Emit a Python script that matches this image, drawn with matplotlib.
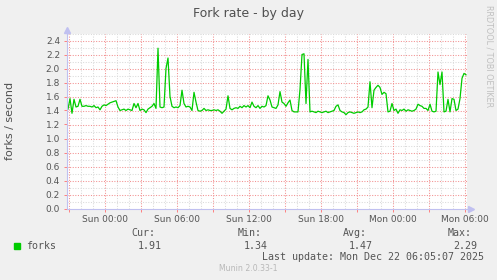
import numpy as np
import pandas as pd
import matplotlib
matplotlib.use('Agg')
import matplotlib.pyplot as plt
import matplotlib.dates as mdates
from matplotlib.ticker import MultipleLocator, FuncFormatter

# fork rate samples, 10 minute steps from Sat 20:55
forks = [
    1.42, 1.57, 1.36, 1.56, 1.45, 1.46, 1.56, 1.46, 1.46, 1.47,
    1.46, 1.46, 1.45, 1.47, 1.44, 1.45, 1.41, 1.46, 1.48, 1.47,
    1.49, 1.51, 1.52, 1.53, 1.54, 1.45, 1.40, 1.41, 1.42, 1.40,
    1.42, 1.41, 1.40, 1.50, 1.44, 1.50, 1.40, 1.42, 1.41, 1.37,
    1.42, 1.44, 1.46, 1.50, 1.43, 2.29, 1.45, 1.44, 1.45, 2.00,
    2.15, 1.60, 1.46, 1.44, 1.45, 1.44, 1.47, 1.69, 1.50, 1.45,
    1.46, 1.45, 1.40, 1.66, 1.52, 1.40, 1.39, 1.40, 1.43, 1.40,
    1.41, 1.40, 1.40, 1.41, 1.40, 1.41, 1.39, 1.36, 1.39, 1.42,
    1.61, 1.43, 1.41, 1.43, 1.44, 1.43, 1.46, 1.44, 1.47, 1.45,
    1.47, 1.44, 1.52, 1.46, 1.44, 1.47, 1.43, 1.46, 1.45, 1.47,
    1.61, 1.55, 1.45, 1.44, 1.43, 1.48, 1.67, 1.52, 1.50, 1.46,
    1.51, 1.55, 1.40, 1.38, 1.38, 1.38, 1.70, 2.20, 2.21, 1.50,
    2.13, 1.38, 1.39, 1.38, 1.37, 1.39, 1.38, 1.37, 1.38, 1.39,
    1.37, 1.38, 1.39, 1.40, 1.46, 1.48, 1.40, 1.38, 1.37, 1.34,
    1.37, 1.38, 1.37, 1.36, 1.37, 1.38, 1.37, 1.38, 1.41, 1.42,
    1.45, 1.81, 1.44, 1.69, 1.73, 1.76, 1.73, 1.63, 1.66, 1.64,
    1.38, 1.39, 1.50, 1.40, 1.42, 1.36, 1.41, 1.40, 1.42, 1.39,
    1.41, 1.40, 1.39, 1.40, 1.42, 1.49, 1.47, 1.46, 1.43, 1.43,
    1.40, 1.49, 1.39, 1.38, 1.39, 1.95, 1.77, 1.95, 1.38, 1.39,
    1.56, 1.38, 1.57, 1.56, 1.40, 1.42, 1.57, 1.86, 1.93, 1.91,
]
times = pd.date_range('2025-12-20 20:55', periods=len(forks), freq='10min')

legend_cols = ['Cur:', 'Min:', 'Avg:', 'Max:']
legend_vals = ['1.91', '1.34', '1.47', '2.29']

W, H = 497, 280
fig = plt.figure(figsize=(W / 100, H / 100), dpi=100, facecolor='#f0f0f0')
ax = fig.add_axes([67 / W, (H - 208.5) / H, 400 / W, 175 / H])
ax.set_facecolor('white')

t0 = pd.Timestamp('2025-12-20 20:50')
t1 = pd.Timestamp('2025-12-22 06:10')
ax.set_xlim(t0, t1)
ax.set_ylim(0, 2.5)

# grid drawn by hand: grey every hour / 0.1, red every 3 hours / 0.2
hours = pd.date_range('2025-12-20 21:00', t1, freq='1h')
levels = np.round(np.arange(0.1, 2.51, 0.1), 1)
dot = (0, (1, 1.5))
for h in hours:
    major = h.hour % 3 == 0
    ax.axvline(h, color='#f29090' if major else '#dadada', lw=0.75, ls=dot,
               zorder=2 if major else 1)
for v in levels:
    major = round(v * 10) % 2 == 0
    ax.axhline(v, color='#f29090' if major else '#dadada', lw=0.75, ls=dot,
               zorder=2 if major else 1)

ax.plot(times, forks, color='#00cc00', lw=0.9, zorder=3)

ax.xaxis.set_major_locator(mdates.HourLocator(byhour=range(0, 24, 3)))
ax.yaxis.set_major_locator(MultipleLocator(0.2))

def xfmt(x, pos):
    d = mdates.num2date(x)
    return d.strftime('%a %H:%M') if d.hour % 6 == 0 else ''

ax.xaxis.set_major_formatter(FuncFormatter(xfmt))
ax.yaxis.set_major_formatter(FuncFormatter(lambda v, p: f'{v:.1f}'))
ax.tick_params(which='major', length=2.5, width=0.7, color='#ff8080',
               labelsize=6.5, labelcolor='#555555', pad=2.5)

for s in ['top', 'right']:
    ax.spines[s].set_visible(False)
for s in ['left', 'bottom']:
    ax.spines[s].set_color('#c0c0f0')
    ax.spines[s].set_linewidth(0.8)
    ax.spines[s].set_zorder(4)

ax.plot([0], [1 + 4 / 175], marker='^', ms=4, color='#c0c0f0',
        transform=ax.transAxes, clip_on=False)
ax.plot([0, 0], [1, 1 + 4 / 175], color='#c0c0f0', lw=0.8,
        transform=ax.transAxes, clip_on=False)
ax.plot([1 + 4 / 400], [0], marker='>', ms=4, color='#c0c0f0',
        transform=ax.transAxes, clip_on=False)
ax.plot([1, 1 + 4 / 400], [0, 0], color='#c0c0f0', lw=0.8,
        transform=ax.transAxes, clip_on=False)

def fx(x):
    return x / W

def fy(y):
    return 1 - y / H

fig.text(fx(248.5), fy(13), 'Fork rate - by day', ha='center', va='center',
         fontsize=9, color='#505050')
fig.text(fx(10), fy(121), 'forks / second', ha='center', va='center',
         rotation=90, fontsize=8, color='#505050')
fig.text(fx(489), fy(5), 'RRDTOOL / TOBI OETIKER', ha='center', va='top',
         rotation=-90, fontsize=5.8, color='#c0c0c0')

mono = 'DejaVu Sans Mono'
txt = '#555555'
fig.patches.append(plt.Rectangle((fx(14), fy(249)), 6 / W, 6 / H,
                                 transform=fig.transFigure, color='#00cc00'))
fig.text(fx(26.5), fy(246), 'forks', ha='left', va='center',
         fontsize=7.2, family=mono, color=txt)

col_x = [131.7, 237.7, 342.7, 447.7]
val_x = [137.3, 244, 348.3, 453.3]
for cx, vx, c, v in zip(col_x, val_x, legend_cols, legend_vals):
    fig.text(fx(cx), fy(233.5), c, ha='left', va='center', fontsize=7.2,
             family=mono, color=txt)
    fig.text(fx(vx), fy(246), v, ha='left', va='center', fontsize=7.2,
             family=mono, color=txt)

fig.text(fx(261.7), fy(257.5), 'Last update: Mon Dec 22 06:05:07 2025',
         ha='left', va='center', fontsize=7.2, family=mono, color=txt)
fig.text(fx(218.7), fy(268.5), 'Munin 2.0.33-1', ha='left', va='center',
         fontsize=5.6, color='#b8b8b8')

plt.savefig('out.png', dpi=100, facecolor=fig.get_facecolor())
